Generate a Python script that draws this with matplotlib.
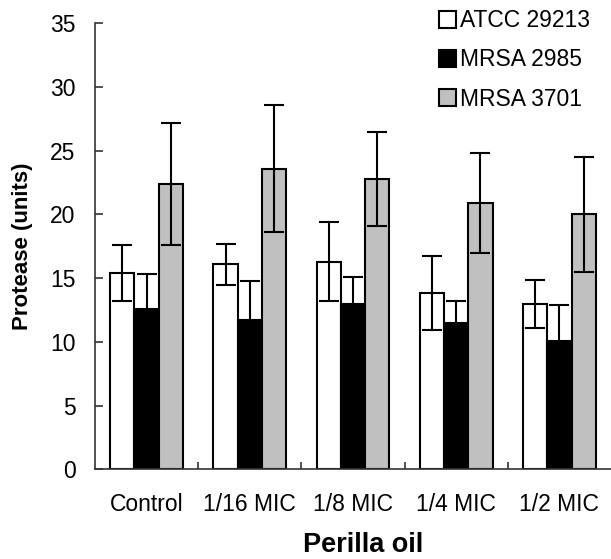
import matplotlib.pyplot as plt
import numpy as np

plt.rcParams['font.family'] = ['Liberation Sans', 'DejaVu Sans']

# datos
grupos = ["Control", "1/16 MIC", "1/8 MIC", "1/4 MIC", "1/2 MIC"]
series = ["ATCC 29213", "MRSA 2985", "MRSA 3701"]
atcc = [15.4, 16.1, 16.3, 13.8, 12.95]
atcc_err = [2.2, 1.6, 3.1, 2.9, 1.9]
mrsa2985 = [12.6, 11.7, 13.0, 11.5, 10.1]
mrsa2985_err = [2.7, 3.1, 2.1, 1.7, 2.8]
mrsa3701 = [22.4, 23.6, 22.8, 20.9, 20.0]
mrsa3701_err = [4.8, 5.0, 3.7, 3.9, 4.5]
colores = ["white", "black", "#c0c0c0"]

fig = plt.figure(figsize=(6.11, 5.59), dpi=100)
ax = fig.add_axes([0.1555, 0.1605, 0.8445, 0.7978])

x = np.arange(len(grupos))
w = 0.235
valores = [atcc, mrsa2985, mrsa3701]
errores = [atcc_err, mrsa2985_err, mrsa3701_err]
for i in range(3):
    ax.bar(x + (i - 1) * w, valores[i], w, color=colores[i], edgecolor="black",
           linewidth=1.5, label=series[i],
           yerr=errores[i], capsize=7,
           error_kw=dict(ecolor="black", elinewidth=1.5, capthick=1.5))

ax.set_xlim(-0.5, 4.5)
ax.set_ylim(0, 35)
ax.set_yticks(np.arange(0, 36, 5))
ax.set_xticks(x)
ax.set_xticklabels(grupos)
ax.set_xticks(np.arange(0.5, 4, 1), minor=True)
ax.spines["top"].set_visible(False)
ax.spines["right"].set_visible(False)
ax.spines["left"].set_color("#333333")
ax.spines["bottom"].set_color("#333333")
ax.spines["left"].set_linewidth(1.2)
ax.spines["bottom"].set_linewidth(1.2)
ax.tick_params(axis="y", direction="in", length=6, width=1.2, pad=14,
               labelsize=16.5, colors="#333333", labelcolor="black")
ax.tick_params(axis="x", which="major", length=0, pad=17, labelsize=16.5)
ax.tick_params(axis="x", which="minor", direction="in", length=5, width=1.2,
               colors="#333333")

ax.set_ylabel("Protease (units)", fontsize=16, fontweight="bold", labelpad=12)
ax.set_xlabel("Perilla oil", fontsize=19.5, fontweight="bold", labelpad=12)
ax.xaxis.set_label_coords(0.52, -0.14)

leg = ax.legend(loc="upper left", bbox_to_anchor=(418 / 611, 1.02),
                bbox_transform=fig.transFigure, frameon=False,
                fontsize=16.5, handlelength=0.75, handleheight=0.75,
                handletextpad=0.2, labelspacing=0.7)

plt.savefig("out.png", dpi=100)
